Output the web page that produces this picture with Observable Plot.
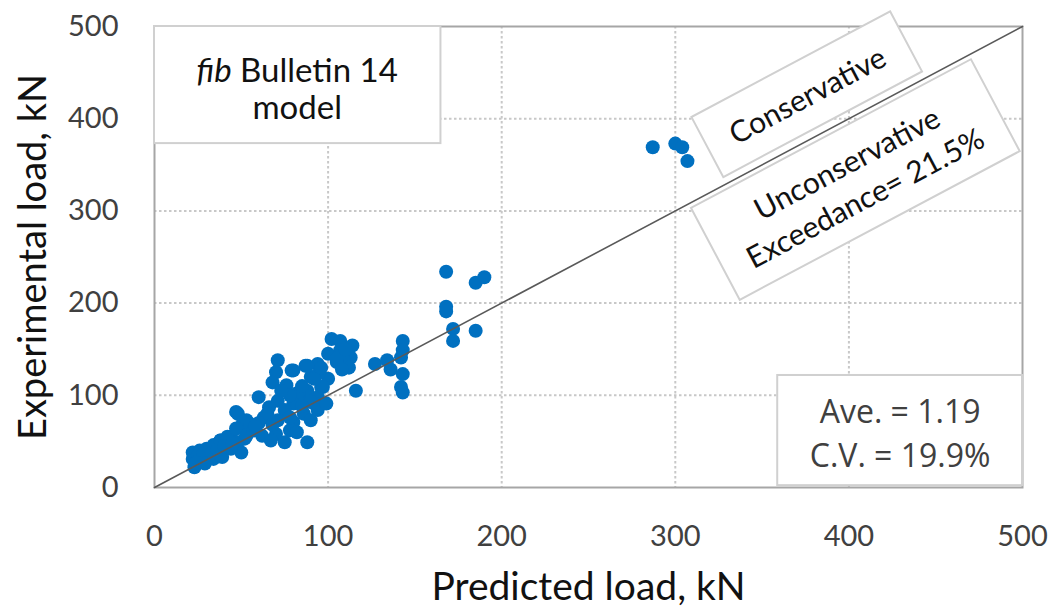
<!DOCTYPE html>
<html>
<head>
<meta charset="utf-8">
<script src="https://cdn.jsdelivr.net/npm/d3@7"></script>
<script src="https://cdn.jsdelivr.net/npm/@observablehq/plot@0.6"></script>
<style>
  html, body { margin: 0; padding: 0; background: #fff; }
  #chart svg { display: block; }
</style>
</head>
<body>
<div id="chart"></div>
<script>
// Predicted vs experimental load (kN), one dot per test specimen
const predicted = [
  287, 300, 304, 307,
  168, 185, 190, 168, 168, 172, 172, 185,
  143, 143, 142, 134, 136, 143, 142, 143,
  127, 116,
  102, 107, 114, 100, 107, 113, 109, 112, 105,
  87, 94, 80, 90, 100, 96, 88, 82, 94, 86, 92,
  71, 70, 79, 88, 68, 60, 76, 83, 71, 80, 90, 66, 75, 86, 94, 63, 71, 80, 90, 53,
  47, 50, 57, 62, 70, 78, 67, 75, 82, 88, 52, 38, 44, 99, 97,
  48, 51, 50, 23, 22, 22, 26, 30, 34, 38, 42, 27, 34, 39, 31, 47, 44, 48, 53, 55, 57,
  95, 92, 85, 78, 73, 65, 60, 58, 68, 85, 78, 96, 105, 108, 110,
  25, 28, 33, 36, 40, 45, 29, 24
];
const experimental = [
  369, 373, 369, 354,
  234, 222, 228, 196, 191, 172, 159, 170,
  159, 149, 141, 138, 128, 123, 109, 103,
  134, 105,
  161, 159, 154, 145, 149, 141, 138, 130, 136,
  132, 134, 127, 120, 118, 109, 105, 102, 98, 93, 91,
  138, 125, 127, 132, 114, 98, 111, 103, 94, 91, 93, 87, 84, 80, 84, 76, 73, 71, 73, 73,
  82, 65, 62, 56, 58, 62, 51, 49, 60, 49, 53, 51, 55, 91, 109,
  80, 71, 38, 22, 38, 31, 40, 42, 46, 51, 55, 29, 31, 33, 33, 64, 42, 49, 56, 69, 62,
  125, 118, 110, 100, 105, 80, 70, 66, 68, 88, 76, 130, 140, 128, 150,
  35, 36, 38, 40, 45, 48, 26, 27
];

const axisMax = 500;
const tickValues = [0, 100, 200, 300, 400, 500];
const xTitle = "Predicted load, kN";
const yTitle = "Experimental load, kN";

// Annotation boxes, placed in data units
const modelBox = {x1: 0, x2: 165, y1: 373, y2: 500};
const statsBox = {x1: 359, x2: 500, y1: 2, y2: 121.5};
const statsText = "Ave. = 1.19\nC.V. = 19.9%";
const conservativeLabel = {x: 376, y: 426, w: 225, h: 68, size: 30, lines: ["Conservative"]};
const unconservativeLabel = {x: 404, y: 333.5, w: 317, h: 104, size: 30, lines: ["Unconservative", "Exceedance= 21.5%"]};

const points = predicted.map((p, i) => ({p, e: experimental[i]}));
const FONT = "Lato, 'Open Sans', sans-serif";
const STATS_FONT = "'Open Sans', sans-serif";

// A white box tilted to follow the 1:1 line, with centred text
function tiltedBox({x, y, w, h, size, lines}) {
  return (index, {x: sx, y: sy}) => {
    const cx = sx(x), cy = sy(y);
    const ang = -Math.atan2(sy(0) - sy(axisMax), sx(axisMax) - sx(0)) * 180 / Math.PI;
    const g = d3.create("svg:g").attr("transform", `translate(${cx},${cy}) rotate(${ang})`);
    g.append("rect")
      .attr("x", -w / 2).attr("y", -h / 2).attr("width", w).attr("height", h)
      .attr("fill", "#fff").attr("stroke", "#d0d0d0").attr("stroke-width", 2);
    const lh = size * 1.3;
    const t0 = -(lines.length - 1) * lh / 2;
    lines.forEach((s, i) => {
      g.append("text")
        .attr("x", 0).attr("y", t0 + i * lh)
        .attr("text-anchor", "middle").attr("dominant-baseline", "central")
        .attr("font-family", FONT).attr("font-size", size).attr("fill", "#111")
        .text(s);
    });
    return g.node();
  };
}

// Model name box text with italic "fib"
function modelLabel(index, {x: sx, y: sy}) {
  const cx = (sx(modelBox.x1) + sx(modelBox.x2)) / 2;
  const cy = (sy(modelBox.y1) + sy(modelBox.y2)) / 2;
  const g = d3.create("svg:g");
  const t = g.append("text").attr("text-anchor", "middle")
    .attr("font-family", FONT).attr("font-size", 33).attr("fill", "#111");
  const l1 = t.append("tspan").attr("x", cx).attr("y", cy - 16).attr("dominant-baseline", "central");
  l1.append("tspan").attr("font-style", "italic").text("fib");
  l1.append("tspan").text(" Bulletin 14");
  t.append("tspan").attr("x", cx).attr("y", cy + 21).attr("dominant-baseline", "central").text("model");
  return g.node();
}

const chart = Plot.plot({
  width: 1056,
  height: 616,
  marginTop: 26,
  marginRight: 34,
  marginBottom: 129,
  marginLeft: 154,
  style: {fontFamily: FONT, background: "#fff"},
  x: {domain: [0, axisMax]},
  y: {domain: [0, axisMax]},
  marks: [
    Plot.gridX(tickValues.slice(1, -1), {stroke: "#c8c8c8", strokeOpacity: 1, strokeWidth: 2, strokeDasharray: "2.5,2.5"}),
    Plot.gridY(tickValues.slice(1, -1), {stroke: "#c8c8c8", strokeOpacity: 1, strokeWidth: 2, strokeDasharray: "2.5,2.5"}),
    Plot.frame({stroke: "#a6a6a6", strokeWidth: 2}),
    Plot.axisX(tickValues, {tickSize: 0, tickPadding: 38, fontSize: 29, fill: "#404040", label: null}),
    Plot.axisY(tickValues, {tickSize: 0, tickPadding: 36, fontSize: 29, fill: "#404040", label: null}),
    Plot.text([xTitle], {frameAnchor: "bottom", dy: 112, fontSize: 39, fill: "#111", text: d => d, textAnchor: "middle"}),
    Plot.text([yTitle], {frameAnchor: "left", dx: -121, rotate: -90, fontSize: 38, fill: "#111", text: d => d, textAnchor: "middle"}),
    Plot.dot(points, {x: "p", y: "e", r: 7, fill: "#0070c0", stroke: null}),
    Plot.line([0, axisMax], {x: d => d, y: d => d, stroke: "#595959", strokeWidth: 1.6}),
    Plot.rect([modelBox], {x1: "x1", x2: "x2", y1: "y1", y2: "y2", fill: "#fff", stroke: "#d0d0d0", strokeWidth: 2}),
    modelLabel,
    Plot.rect([statsBox], {x1: "x1", x2: "x2", y1: "y1", y2: "y2", fill: "#fff", stroke: "#d0d0d0", strokeWidth: 2}),
    Plot.text([statsText], {
      x: (statsBox.x1 + statsBox.x2) / 2,
      y: (statsBox.y1 + statsBox.y2) / 2,
      text: d => d,
      fontFamily: STATS_FONT,
      fontSize: 32, fill: "#404040",
      lineHeight: 1.38,
      lineAnchor: "middle"
    }),
    tiltedBox(conservativeLabel),
    tiltedBox(unconservativeLabel)
  ]
});

document.getElementById("chart").append(chart);
</script>
</body>
</html>
